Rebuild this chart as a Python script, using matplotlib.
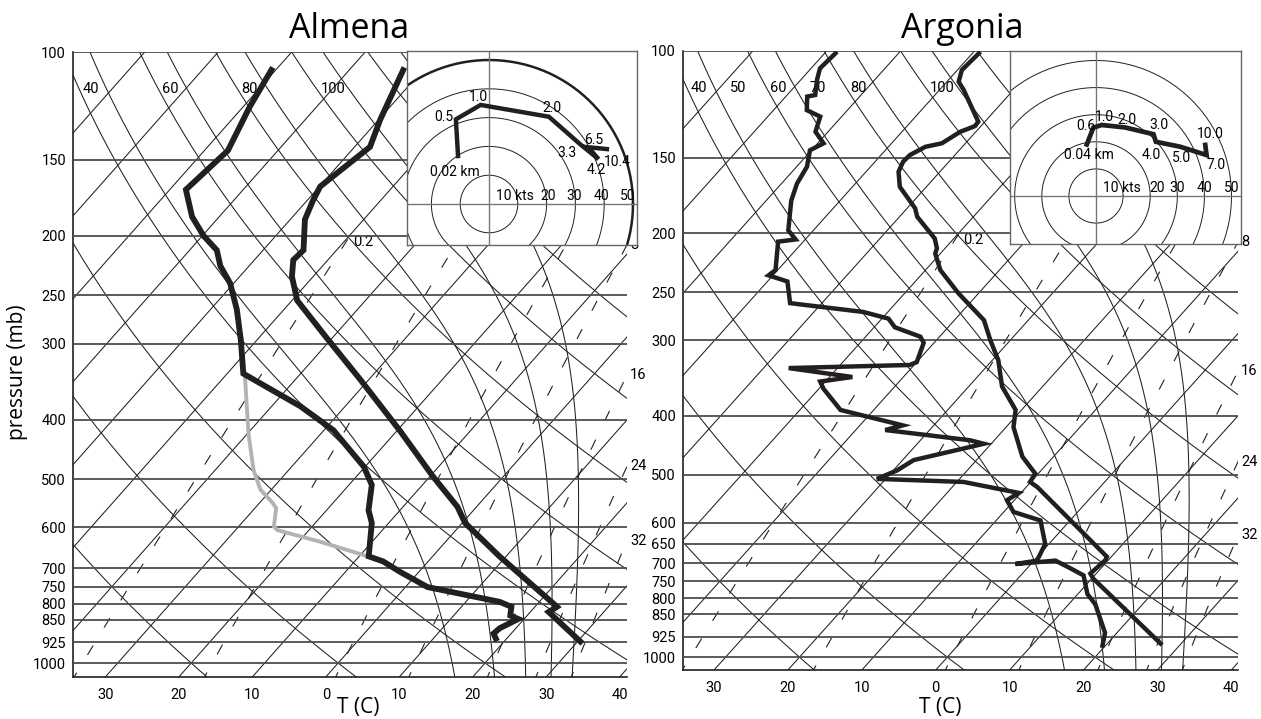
import numpy as np
import matplotlib
matplotlib.use("Agg")
import matplotlib.pyplot as plt
from matplotlib.ticker import NullLocator

plt.rcParams['font.family'] = ['Open Sans', 'DejaVu Sans']
plt.rcParams['lines.scale_dashes'] = False

NARROW = ['Liberation Sans Narrow', 'Roboto', 'Open Sans', 'DejaVu Sans']
INK = '#231f20'

# skew-T background
K_SKEW = 32.0                      # isotherm skew, deg C per ln(p)
ISOTHERMS = np.arange(-110, 41, 10)
DRY_THETA = np.arange(-40, 201, 20)    # potential temperature, deg C
MOIST_THETAE = [320, 340, 360, 380, 400]  # equivalent potential temperature, K
MIX_RATIOS = [0.2, 1, 4, 8, 16, 24, 32]   # g/kg
MIX_EDGE_LABELS = [8, 16, 24, 32]
T_TICKS = [-30, -20, -10, 0, 10, 20, 30, 40]
HODO_RINGS = [10, 20, 30, 40, 50]

# ---- Almena sounding
AL_ISOBARS = [100, 150, 200, 250, 300, 400, 500, 600, 700, 750, 800, 850, 925, 1000]
AL_THETA_LABELS = [40, 60, 80, 100]
AL_T_P = [106, 129, 143, 166, 175, 188, 211, 219, 233, 255, 268, 294, 344, 416, 495,
          555, 590, 669, 800, 809, 825, 929]
AL_T = [-62.8, -59.8, -57.9, -59.9, -59.2, -58.0, -54.5, -54.7, -52.9, -49.3, -46.3,
        -40.7, -31.1, -19.7, -9.6, -2.6, 0.4, 9.1, 22.2, 23.0, 22.5, 30.9]
AL_TD_P = [106, 123, 145, 168, 186, 200, 211, 224, 239, 264, 296, 336, 380, 416, 477,
           511, 562, 590, 669, 682, 709, 751, 794, 809, 836, 847, 877, 895, 921]
AL_TD = [-80.7, -79.1, -76.8, -77.8, -73.7, -69.8, -66.3, -63.9, -60.5, -56.4, -52.2,
         -47.8, -36.1, -28.7, -20.2, -16.9, -14.3, -12.3, -8.7, -6.1, -2.6, 3.0, 14.6,
         16.8, 17.7, 19.2, 17.8, 17.6, 19.0]
AL_GRAY_P = [338, 422, 483, 520, 548, 558, 598, 606, 633, 669]
AL_GRAY = [-47.4, -39.8, -34.8, -31.5, -28.1, -27.1, -25.2, -24.3, -17.1, -8.8]

AL_HODO_NAMES = ['0.02 km', '0.5', '1.0', '2.0', '3.3', '4.2', '6.5', '10.4']
AL_HODO_U = [-10.7, -11.5, -2.9, 20.8, 31.6, 38.0, 34.5, 41.7]
AL_HODO_V = [15.9, 29.4, 34.4, 30.3, 20.8, 15.6, 19.7, 19.0]
AL_HODO_DX = [-2.4, -8.6, -1.9, 2.2, -9.4, -1.7, 4.1, 5.8]
AL_HODO_DY = [-9.6, 1.9, 6.0, 6.3, -6.5, -7.9, 5.3, -8.9]
AL_RING_LABEL_U = [2.4, 20.5, 29.5, 39.1, 48.2]

# ---- Argonia sounding
AR_ISOBARS = [100, 150, 200, 250, 300, 400, 500, 600, 650, 700, 750, 800, 850, 925, 1000]
AR_THETA_LABELS = [40, 50, 60, 70, 80, 100]
AR_T_P = [100.3, 107.5, 112.4, 116, 130.8, 133, 135.9, 142, 143.9, 148.5, 152.3, 158.2,
          167.5, 181.8, 187.7, 203.8, 211.6, 215.8, 229.8, 251.1, 278, 300, 323.6,
          357.6, 391, 417.4, 467, 498, 514, 524, 683, 692, 728, 742, 955]
AR_T = [-69.1, -69.4, -68.4, -66.7, -60.9, -60.8, -62.1, -63.2, -65.0, -66.1, -66.2,
        -65.6, -63.6, -58.9, -57.6, -52.6, -51.1, -50.7, -48.0, -42.7, -36.0, -32.7,
        -29.2, -25.5, -20.8, -19.0, -14.2, -10.4, -10.1, -8.5, 9.4, 9.6, 9.2, 10.2, 27.6]
AR_TD_P = [100.3, 106.8, 111.6, 118.2, 118.9, 125.2, 128.3, 135.9, 142, 145.8, 155.2,
           165.5, 176.6, 197.6, 204.6, 206.3, 229.8, 234.5, 240, 260.6, 269.5, 276.4,
           285.6, 296, 303, 326, 329.6, 333.5, 345, 351, 360.6, 391, 414.6, 422, 438.7,
           444.6, 473, 492, 508, 514, 535.8, 550.9, 576, 595, 650.7, 693, 702, 693,
           711, 733, 787, 818, 912, 965]
AR_TD = [-88.5, -88.8, -87.8, -86.2, -87.1, -85.5, -82.9, -81.7, -79.2, -80.2, -78.6,
         -77.9, -76.6, -73.4, -71.3, -73.4, -70.3, -70.6, -67.3, -64.3, -53.3, -49.1,
         -47.2, -42.6, -41.4, -40.0, -40.6, -56.6, -46.9, -50.7, -49.4, -44.5, -34.2,
         -36.0, -23.3, -21.0, -28.5, -29.5, -31.2, -19.1, -10.3, -11.0, -8.7, -4.0,
         -0.5, 0.4, -2.1, 2.9, 5.5, 8.5, 11.3, 13.6, 18.4, 19.8]

AR_HODO_NAMES = ['0.04 km', '0.6', '1.0', '2.0', '3.0', '4.0', '5.0', '7.0', '10.0']
AR_HODO_U = [-3.7, -1.0, 2.1, 10.7, 21.2, 22.1, 31.0, 40.8, 40.2]
AR_HODO_V = [18.2, 25.2, 26.2, 25.3, 22.8, 20.0, 18.2, 15.1, 19.7]
AR_HODO_DX = [2.2, -5.3, 1.7, 1.4, 4.1, -3.6, 1.4, 6.7, 3.6]
AR_HODO_DY = [-6.0, 1.2, 5.8, 5.3, 6.7, -9.6, -8.1, -7.2, 6.3]
AR_RING_LABEL_U = [2.6, 22.6, 30.0, 39.9, 50.1]

RD, CP, LV, EPS = 287.04, 1005.7, 2.501e6, 0.622


def skewx(t, p, pbot):
    return np.asarray(t, float) + K_SKEW * np.log(pbot / np.asarray(p, float))


def sat_vp(t):
    return 6.112 * np.exp(17.67 * t / (t + 243.5))


def sat_mr(t, p):
    e = sat_vp(t)
    return EPS * e / (p - e)


def theta_e(t, p):
    r = 1000.0 * sat_mr(t, p)
    tk = t + 273.15
    return tk * (1000.0 / p) ** (0.2854 * (1 - 0.00028 * r)) * \
        np.exp((3.376 / tk - 0.00254) * r * (1 + 0.00081 * r))


def moist_rate(t, p):
    tk = t + 273.15
    rs = sat_mr(t, p)
    return (RD * tk + LV * rs) / (CP + LV ** 2 * rs * EPS / (RD * tk ** 2)) / p


def moist_line(thetae, p_end, n=300):
    lo, hi = -40.0, 45.0
    for _ in range(60):
        mid = 0.5 * (lo + hi)
        if theta_e(mid, 1000.0) > thetae:
            hi = mid
        else:
            lo = mid
    ps = np.exp(np.linspace(np.log(1000.0), np.log(p_end), n))
    ts = [0.5 * (lo + hi)]
    for i in range(1, n):
        p0, p1 = ps[i - 1], ps[i]
        t0 = ts[-1]
        k1 = moist_rate(t0, p0)
        k2 = moist_rate(t0 + k1 * (p1 - p0), p1)
        ts.append(t0 + 0.5 * (k1 + k2) * (p1 - p0))
    return ps, np.array(ts)


def mixing_t(w, p):
    e = w * p / (622.0 + w)
    a = np.log(e / 6.112)
    return 243.5 * a / (17.67 - a)


def draw_panel(ax, pbot, xlim, isobars, theta_labels, t_p, t_c, td_p, td_c, lw):
    ax.set_yscale('log')
    ax.set_ylim(pbot, 100)
    ax.set_xlim(*xlim)
    p = np.exp(np.linspace(np.log(pbot * 1.02), np.log(98), 300))
    for t in ISOTHERMS:
        ax.plot(skewx(np.full_like(p, t), p, pbot), p, color=INK, lw=0.75, zorder=2)
    for th in DRY_THETA:
        tt = (th + 273.15) * (p / 1000.0) ** 0.286 - 273.15
        ax.plot(skewx(tt, p, pbot), p, color=INK, lw=0.75, zorder=2)
    for te in MOIST_THETAE:
        pu, tu = moist_line(te, 98)
        pd, tdn = moist_line(te, pbot * 1.02, n=20)
        ax.plot(skewx(tu, pu, pbot), pu, color=INK, lw=0.75, zorder=2)
        ax.plot(skewx(tdn, pd, pbot), pd, color=INK, lw=0.75, zorder=2)
    for w in MIX_RATIOS:
        pw = np.exp(np.linspace(np.log(pbot * 1.02), np.log(200), 200))
        xw = skewx(mixing_t(w, pw), pw, pbot)
        ax.plot(xw, pw, color=INK, lw=0.8, ls=(0, (8, 15)), zorder=2)
        if w in MIX_EDGE_LABELS:
            p_exit = np.interp(xlim[1], xw, pw)
            ax.text(xlim[1] + 0.4, p_exit, f'{w:g}', fontsize=10.5, family=NARROW,
                    ha='left', va='center', clip_on=False)
        if w == MIX_RATIOS[0]:
            ax.text(xw[-1] + 0.5, 205, f'{w:g}', fontsize=10.5, family=NARROW,
                    ha='left', va='center')
    ax.hlines(isobars, xlim[0], xlim[1], color='#4d4d4d', lw=1.3, zorder=3)
    for th in theta_labels:
        tt = (th + 273.15) * (115 / 1000.0) ** 0.286 - 273.15
        ax.text(skewx(tt, 115, pbot) + 0.5, 115, str(th), fontsize=10.5, family=NARROW,
                ha='left', va='center', zorder=4)
    ax.plot(skewx(t_c, t_p, pbot), t_p, color=INK, lw=lw, zorder=6,
            solid_joinstyle='miter', solid_capstyle='butt')
    ax.plot(skewx(td_c, td_p, pbot), td_p, color=INK, lw=lw, zorder=6,
            solid_joinstyle='miter', solid_capstyle='butt')

    ax.set_yticks(isobars)
    ax.set_yticklabels([str(v) for v in isobars])
    ax.yaxis.set_minor_locator(NullLocator())
    ax.set_xticks(T_TICKS)
    ax.set_xticklabels([str(abs(t)) for t in T_TICKS])
    ax.tick_params(axis='both', length=0, labelsize=10.5)
    ax.tick_params(axis='y', pad=5)
    ax.tick_params(axis='x', pad=8)
    for lab in ax.get_xticklabels() + ax.get_yticklabels():
        lab.set_fontfamily(NARROW)
    for side in ['top', 'right']:
        ax.spines[side].set_visible(False)
    for side in ['left', 'bottom']:
        ax.spines[side].set_color(INK)
        ax.spines[side].set_linewidth(1.2)


def draw_hodo(fig, rect, xlim, ylim, u, v, names, dx, dy, ring_u, lw, outer_lw):
    hx = fig.add_axes(rect)
    hx.set_xlim(*xlim)
    hx.set_ylim(*ylim)
    hx.set_xticks([])
    hx.set_yticks([])
    for s in hx.spines.values():
        s.set_color('#666666')
        s.set_linewidth(1.0)
    ang = np.linspace(0, 2 * np.pi, 400)
    for r in HODO_RINGS:
        hx.plot(r * np.cos(ang), r * np.sin(ang), color=INK,
                lw=outer_lw if r == HODO_RINGS[-1] else 0.7, zorder=1)
    hx.axhline(0, color='#777777', lw=1.0, zorder=1)
    hx.axvline(0, color='#777777', lw=1.0, zorder=1)
    hx.plot(u, v, color=INK, lw=lw, zorder=4, solid_joinstyle='miter',
            solid_capstyle='butt')
    for name, ui, vi, ox, oy in zip(names, u, v, dx, dy):
        hx.annotate(name, (ui, vi), xytext=(ox, oy), textcoords='offset points',
                    ha='center', va='center', fontsize=10, family=NARROW, zorder=5)
    for r, ru in zip(HODO_RINGS, ring_u):
        if r == HODO_RINGS[0]:
            hx.text(ru, 0.4, f'{r} kts', ha='left', va='bottom', fontsize=10,
                    family=NARROW)
        else:
            hx.text(ru, 0.4, str(r), ha='center', va='bottom', fontsize=10,
                    family=NARROW)
    return hx


W, H = 1261, 719
fig = plt.figure(figsize=(W / 100, H / 100), dpi=100)

ax1 = fig.add_axes([73 / W, 1 - 677 / H, 554 / W, 625 / H])
draw_panel(ax1, 1054, (-34.4, 41.0), AL_ISOBARS, AL_THETA_LABELS,
           AL_T_P, AL_T, AL_TD_P, AL_TD, 4.2)
ax1.plot(skewx(AL_GRAY, AL_GRAY_P, 1054), AL_GRAY_P, color='#b3b3b3', lw=2.8, zorder=5,
         solid_joinstyle='miter')

ax2 = fig.add_axes([683 / W, 1 - 670 / H, 555 / W, 619 / H])
draw_panel(ax2, 1050, (-34.2, 40.9), AR_ISOBARS, AR_THETA_LABELS,
           AR_T_P, AR_T, AR_TD_P, AR_TD, 3.2)

draw_hodo(fig, [407 / W, 1 - 245 / H, 230 / W, 194 / H], (-28.47, 51.39), (-14.24, 53.13),
          AL_HODO_U, AL_HODO_V, AL_HODO_NAMES, AL_HODO_DX, AL_HODO_DY,
          AL_RING_LABEL_U, 3.2, 1.8)
draw_hodo(fig, [1010 / W, 1 - 244 / H, 231 / W, 193 / H], (-31.73, 53.5), (-17.71, 53.5),
          AR_HODO_U, AR_HODO_V, AR_HODO_NAMES, AR_HODO_DX, AR_HODO_DY,
          AR_RING_LABEL_U, 3.4, 0.7)

fig.text(349 / W, 1 - 38 / H, 'Almena', fontsize=24.5, ha='center', va='baseline')
fig.text(962 / W, 1 - 38 / H, 'Argonia', fontsize=24.5, ha='center', va='baseline')
fig.text(18 / W, 1 - 372 / H, 'pressure (mb)', fontsize=15, rotation=90,
         ha='center', va='center')
fig.text(358 / W, 1 - 708 / H, 'T (C)', fontsize=15, ha='center', va='center')
fig.text(940 / W, 1 - 708 / H, 'T (C)', fontsize=15, ha='center', va='center')

fig.savefig('out.png', dpi=100)
